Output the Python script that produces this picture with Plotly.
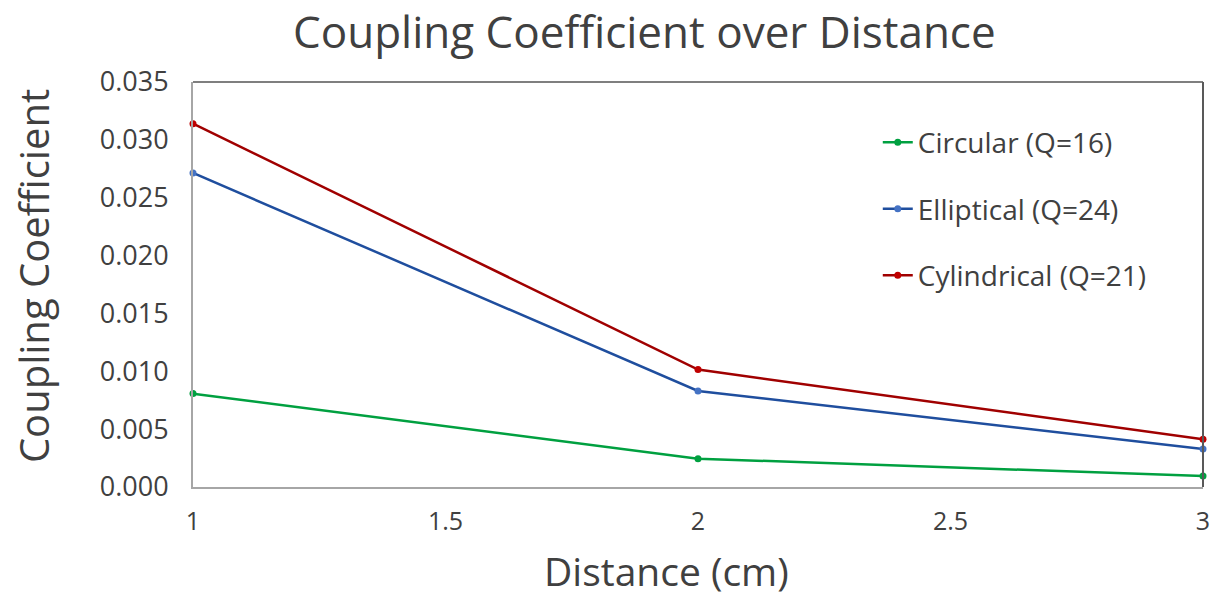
import plotly.graph_objects as go

distance = [1, 2, 3]
circular = [0.00807, 0.00245, 0.00095]
elliptical = [0.02714, 0.0083, 0.00328]
cylindrical = [0.0314, 0.01015, 0.00412]
names = ["Circular (Q=16)", "Elliptical (Q=24)", "Cylindrical (Q=21)"]
x_ticks = [1, 1.5, 2, 2.5, 3]
x_tick_labels = ["1", "1.5", "2", "2.5", "3"]
y_ticks = [0, 0.005, 0.01, 0.015, 0.02, 0.025, 0.03, 0.035]

line_colors = ["#00A040", "#1F4E9E", "#A00000"]
marker_colors = ["#00A040", "#4472C4", "#C00000"]

FONT = "'Open Sans', sans-serif"
L, R, T, B = 193, 1210, 82, 487
PW, PH = R - L, B - T


def px_x(x):
    return (x - L) / PW


def px_y(y):
    return (B - y) / PH


fig = go.Figure()
for i, (name, ys) in enumerate(zip(names, [circular, elliptical, cylindrical])):
    fig.add_trace(go.Scatter(
        x=distance, y=ys, name=name, mode="lines+markers",
        line=dict(color=line_colors[i], width=2.5),
        marker=dict(color=marker_colors[i], size=7),
        cliponaxis=False, legendgroup=f"g{i}",
    ))

fig.update_layout(
    width=1222, height=596,
    paper_bgcolor="white", plot_bgcolor="white",
    margin=dict(l=L, r=1222 - R, t=T, b=596 - B),
    font=dict(family=FONT, color="#404040"),
    showlegend=True,
    legend=dict(x=0.678, y=0.912, xanchor="left", yanchor="top",
                font=dict(size=28, color="#404040", family=FONT),
                bgcolor="rgba(0,0,0,0)", tracegroupgap=27, itemwidth=30),
    annotations=[
        dict(text="Coupling Coefficient over Distance", xref="paper", yref="paper",
             x=px_x(648), y=px_y(31), xanchor="center", yanchor="middle", showarrow=False,
             font=dict(size=44, color="#404040", family=FONT)),
        dict(text="Distance (cm)", xref="paper", yref="paper",
             x=px_x(670), y=px_y(570), xanchor="center", yanchor="middle", showarrow=False,
             font=dict(size=39, color="#404040", family=FONT)),
        dict(text="Coupling Coefficient", xref="paper", yref="paper",
             x=px_x(32), y=px_y(276), xanchor="center", yanchor="middle", showarrow=False,
             textangle=-90, font=dict(size=40, color="#404040", family=FONT)),
    ],
)
fig.update_xaxes(
    range=[1, 3], tickvals=x_ticks, ticktext=x_tick_labels,
    showgrid=False, zeroline=False, showline=True, linecolor="#A6A6A6", linewidth=2,
    ticks="", tickfont=dict(size=25, color="#404040"), ticklabelstandoff=11,
)
fig.update_yaxes(
    range=[0, 0.035], tickvals=y_ticks, tickformat=".3f",
    showgrid=False, zeroline=False, showline=True, linecolor="#A6A6A6", linewidth=2,
    ticks="", tickfont=dict(size=27, color="#404040"), ticklabelstandoff=17,
)
# darker top and right frame lines
fig.add_shape(type="line", xref="paper", yref="paper", x0=0, x1=1, y0=1, y1=1,
              line=dict(color="#7F7F7F", width=2))
fig.add_shape(type="line", xref="paper", yref="paper", x0=1, x1=1, y0=0, y1=1,
              line=dict(color="#595959", width=2))

fig.write_html("out.html")
